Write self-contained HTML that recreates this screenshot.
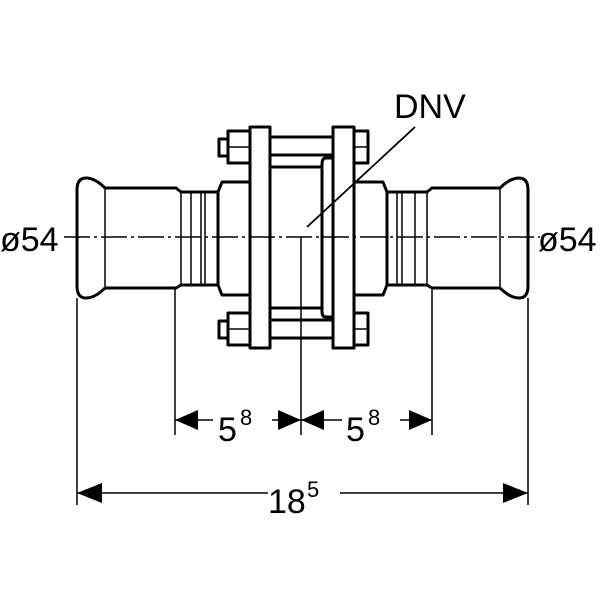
<!DOCTYPE html>
<html><head><style>body{margin:0;background:#fff}svg{display:block}</style></head><body>
<svg width="600" height="600" viewBox="0 0 600 600" xmlns="http://www.w3.org/2000/svg" font-family="Liberation Sans, sans-serif">
<g fill="none" stroke="#000" stroke-width="3" stroke-linejoin="round">
<path d="M105,188 Q95,178 86,178 Q77,178 77,190 L77,286 Q77,298 86,298 Q95,298 105,288"/>
<path d="M105,188 L176,188 L181,192 L218,192 L218,285 L181,285 L176,288 L105,288"/>
<path d="M218,192 L222,182 L250,182 M218,285 L222,295 L250,295"/>
<path d="M500,188 Q510,178 519,178 Q528,178 528,190 L528,286 Q528,298 519,298 Q510,298 500,288"/>
<path d="M500,188 L432,188 L427,192 L387,192 L387,285 L427,285 L432,288 L500,288"/>
<path d="M387,192 L383,182 L354,182 M387,285 L383,295 L354,295"/>
<rect x="250" y="127" width="20" height="221"/>
<rect x="333" y="127" width="21" height="221"/>
<path d="M333,158 L326,158 Q322,158 322,164 L322,312 Q322,317 326,317 L333,317"/>
<path d="M270,137 L333,137 M270,155 L333,155 M270,167 L322,167 M270,308 L322,308 M270,320 L333,320 M270,338 L333,338"/>
<rect x="228" y="131" width="22" height="32"/><rect x="219" y="139" width="9" height="17"/>
<rect x="228" y="313" width="22" height="32"/><rect x="219" y="321" width="9" height="17"/>
<rect x="354" y="131" width="14" height="32"/>
<rect x="354" y="313" width="14" height="32"/>
</g>
<g fill="none" stroke="#000" stroke-width="1.5">
<path d="M105,188 V288 M181,192 V285 M191,192 V285 M201,192 V285 M205,192 V285 M500,188 V288 M427,192 V285 M415,192 V285 M402,192 V285 M397,192 V285"/>
<path d="M228,147 H250 M228,329 H250 M354,147 H368 M354,329 H368"/>
<path d="M77,298 V505 M175,288 V435 M301,237 V435 M432,288 V435 M528,298 V505"/>
<path d="M307,227 L415,127" stroke-width="1.8"/>
<path d="M64,237 H540" stroke-dasharray="26,4,3,4"/>
<path d="M175,420 H213 M272,420 H301 M301,420 H342 M400,420 H432 M77,493 H268 M340,493 H528"/>
</g>
<g fill="#000">
<path d="M175,420 L198,410 L198,430Z M301,420 L278,410 L278,430Z M301,420 L324,410 L324,430Z M432,420 L409,410 L409,430Z M77,493 L102,483 L102,503Z M528,493 L503,483 L503,503Z"/>
</g>
<g fill="#000" font-size="34">
<text x="394" y="118">DNV</text>
<text x="0" y="251">ø54</text>
<text x="538" y="251">ø54</text>
<text x="218" y="441">5</text><text x="240" y="425" font-size="22">8</text>
<text x="346" y="441">5</text><text x="368" y="425" font-size="22">8</text>
<text x="268" y="513">18</text><text x="307" y="497" font-size="22">5</text>
</g>
</svg>
</body></html>
